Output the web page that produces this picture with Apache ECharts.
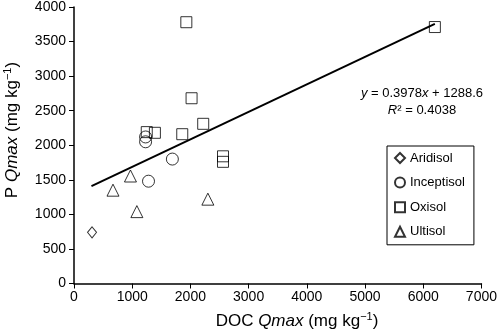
<!DOCTYPE html>
<html>
<head>
<meta charset="utf-8">
<script src="https://cdn.jsdelivr.net/npm/echarts@6/dist/echarts.min.js"></script>
<style>
  html, body { margin: 0; padding: 0; background: #fff; }
  #chart { width: 500px; height: 334px; }
</style>
</head>
<body>
<div id="chart"></div>
<script>
// DOC Qmax vs P Qmax, per soil order
const aridisol = [[310, 740]];
const inceptisol = [[1230, 2120], [1230, 2050], [1690, 1800], [1280, 1480]];
const oxisol = [
  [1930, 3780], [2020, 2680], [2220, 2310], [1860, 2160], [1390, 2180],
  [1250, 2190], [2560, 1840], [2560, 1760], [6200, 3710]
];
const ultisol = [[670, 1350], [970, 1555], [1080, 1040], [2300, 1220]];

// regression shown on the chart
const slope = 0.3978;
const intercept = 1288.6;
const trendX = [300, 6200];

const xTicks = [0, 1000, 2000, 3000, 4000, 5000, 6000, 7000];
const yTicks = [0, 500, 1000, 1500, 2000, 2500, 3000, 3500, 4000];

const FONT = 'Liberation Sans, Arial, sans-serif';
const hollow = { color: 'rgba(0,0,0,0)', borderColor: '#000', borderWidth: 1 };

// title styles: normal, italic, superscript
const titleRich = {
  n: { fontSize: 17, fontFamily: FONT, fill: '#000', lineHeight: 20 },
  i: { fontSize: 17, fontFamily: FONT, fontStyle: 'italic', fill: '#000', lineHeight: 20 },
  s: { fontSize: 11, fontFamily: FONT, fill: '#000', lineHeight: 12, verticalAlign: 'top' }
};

const chart = echarts.init(document.getElementById('chart'));

function scatter(name, data, symbol, size) {
  return {
    name, type: 'scatter', data, symbol, symbolSize: size,
    itemStyle: hollow, z: 3
  };
}

chart.setOption({
  animation: false,
  backgroundColor: '#fff',
  textStyle: { fontFamily: FONT },
  grid: { left: 74, right: 18.5, top: 7, bottom: 50.5 },
  legend: {
    orient: 'vertical',
    left: 387, top: 146,
    padding: [5, 9, 6, 7],
    itemGap: 10.6,
    itemWidth: 10, itemHeight: 10,
    borderColor: '#000', borderWidth: 1,
    data: ['Aridisol', 'Inceptisol', 'Oxisol', 'Ultisol'],
    textStyle: { fontFamily: FONT, fontSize: 13, color: '#000', lineHeight: 14 }
  },
  xAxis: {
    type: 'value',
    min: xTicks[0], max: xTicks[xTicks.length - 1], interval: 1000,
    axisLine: { lineStyle: { color: '#000', width: 1.5 } },
    axisTick: { show: true, length: 5, lineStyle: { color: '#000' } },
    axisLabel: { color: '#000', fontSize: 14, margin: 7, fontFamily: FONT, formatter: v => String(v) },
    splitLine: { show: false }
  },
  yAxis: {
    type: 'value',
    min: yTicks[0], max: yTicks[yTicks.length - 1], interval: 500,
    axisLine: { show: true, lineStyle: { color: '#000', width: 1.5 } },
    axisTick: { show: true, length: 5, lineStyle: { color: '#000' } },
    axisLabel: { color: '#000', fontSize: 14, margin: 8, fontFamily: FONT, formatter: v => String(v) },
    splitLine: { show: false }
  },
  graphic: [
    {
      type: 'text', x: 297, y: 321,
      style: {
        text: '{n|DOC }{i|Qmax}{n| (mg kg}{s|−1}{n|)}',
        align: 'center', verticalAlign: 'middle',
        rich: titleRich
      }
    },
    {
      type: 'text', x: 12, y: 130, rotation: Math.PI / 2,
      style: {
        text: '{n|P }{i|Qmax}{n| (mg kg}{s|−1}{n|)}',
        align: 'center', verticalAlign: 'middle',
        rich: titleRich
      }
    },
    {
      type: 'text', x: 422, y: 101.5,
      style: {
        text: '{i|y}{n| = 0.3978}{i|x}{n| + 1288.6}\n{i|R}{n|² = 0.4038}',
        align: 'center', verticalAlign: 'middle',
        rich: {
          n: { fontSize: 13, fontFamily: FONT, fill: '#000', lineHeight: 17 },
          i: { fontSize: 13, fontFamily: FONT, fontStyle: 'italic', fill: '#000', lineHeight: 17 }
        }
      }
    }
  ],
  series: [
    scatter('Aridisol', aridisol, 'diamond', [9, 11]),
    scatter('Inceptisol', inceptisol, 'circle', 12),
    scatter('Oxisol', oxisol, 'rect', 11),
    scatter('Ultisol', ultisol, 'triangle', 12),
    {
      name: 'trend', type: 'line',
      data: trendX.map(x => [x, slope * x + intercept]),
      symbol: 'none', silent: true,
      lineStyle: { color: '#000', width: 2 }, z: 2
    }
  ]
});
</script>
</body>
</html>
